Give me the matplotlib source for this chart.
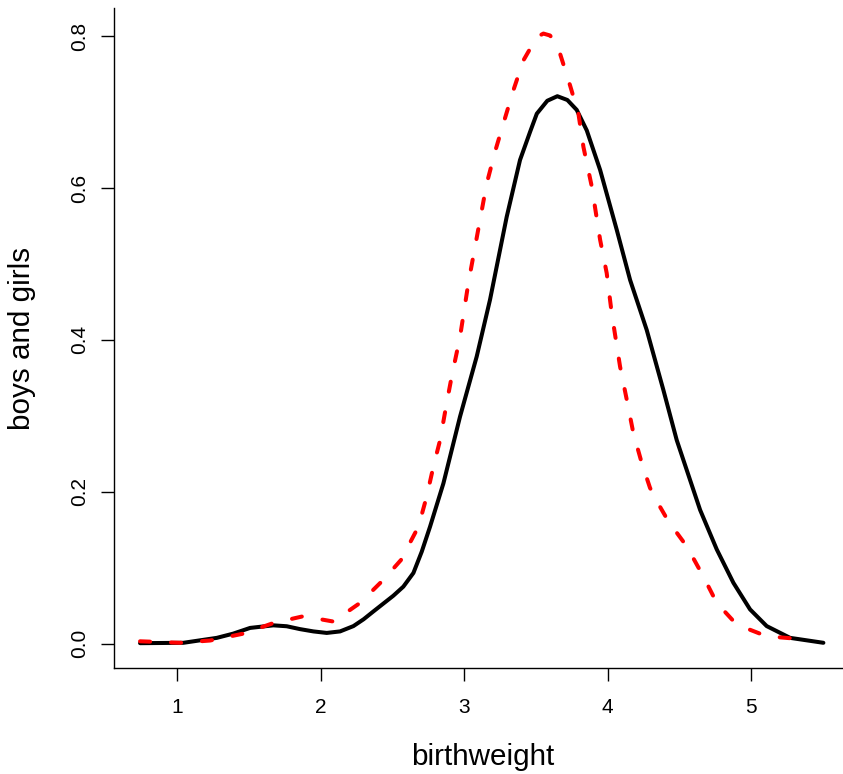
import matplotlib
matplotlib.use("Agg")
import matplotlib.pyplot as plt

plt.rcParams['font.family'] = ['Liberation Sans', 'DejaVu Sans']

# Density curves
boys_girls_x = [0.742, 1.044, 1.277, 1.390, 1.509, 1.671, 1.764, 1.857, 1.950, 2.043,
                2.136, 2.229, 2.300, 2.366, 2.507, 2.577, 2.647, 2.705, 2.763, 2.856,
                2.972, 3.088, 3.181, 3.297, 3.390, 3.460, 3.507, 3.580, 3.650, 3.720,
                3.785, 3.855, 3.948, 4.064, 4.157, 4.273, 4.389, 4.482, 4.528, 4.645,
                4.761, 4.877, 4.993, 5.109, 5.272, 5.504]
boys_girls_y = [0.0005, 0.001, 0.0075, 0.013, 0.0206, 0.024, 0.0228, 0.019, 0.016, 0.014,
                0.016, 0.023, 0.032, 0.042, 0.063, 0.075, 0.093, 0.121, 0.154, 0.211,
                0.299, 0.378, 0.453, 0.562, 0.637, 0.674, 0.698, 0.715, 0.721, 0.716,
                0.703, 0.676, 0.624, 0.545, 0.479, 0.413, 0.334, 0.268, 0.242, 0.176,
                0.124, 0.080, 0.045, 0.023, 0.0075, 0.001]

second_x = [0.742, 1.02, 1.23, 1.46, 1.671, 1.88, 2.089, 2.275, 2.438, 2.560,
            2.682, 2.740, 2.786, 2.833, 2.879, 2.914, 2.972, 3.030, 3.077, 3.111,
            3.158, 3.216, 3.274, 3.344, 3.413, 3.507, 3.553, 3.599, 3.634, 3.669,
            3.739, 3.797, 3.832, 3.890, 3.948, 3.994, 4.029, 4.087, 4.134, 4.180,
            4.238, 4.296, 4.366, 4.424, 4.552, 4.667, 4.761, 4.900, 5.109, 5.341,
            5.388]
second_y = [0.003, 0.001, 0.004, 0.013, 0.027, 0.036, 0.029, 0.0535, 0.084, 0.110,
            0.154, 0.194, 0.233, 0.268, 0.317, 0.352, 0.404, 0.475, 0.523, 0.558,
            0.606, 0.648, 0.685, 0.729, 0.768, 0.799, 0.8035, 0.801, 0.7925, 0.777,
            0.735, 0.698, 0.654, 0.602, 0.532, 0.488, 0.435, 0.365, 0.321, 0.277,
            0.238, 0.205, 0.180, 0.161, 0.128, 0.0886, 0.0535, 0.025, 0.0096, 0.006,
            0.005]

x_ticks = [1, 2, 3, 4, 5]
y_ticks = [0.0, 0.2, 0.4, 0.6, 0.8]
y_tick_labels = ["0.0", "0.2", "0.4", "0.6", "0.8"]

W, H = 843, 774
fig = plt.figure(figsize=(W / 100, H / 100), dpi=100)
ax = fig.add_axes([114 / W, (H - 668) / H, (850 - 114) / W, (668 - 8) / H])

ax.plot(boys_girls_x, boys_girls_y, color='black', lw=2.9, solid_capstyle='round',
        solid_joinstyle='round')
line, = ax.plot(second_x, second_y, color='#FF0000', lw=2.9, dash_capstyle='round',
                dash_joinstyle='round')
line.set_dashes((2.5, 5.2))

ax.set_xlim(0.5605, 5.6895)
ax.set_ylim(-0.0322, 0.8372)

ax.spines['top'].set_visible(False)
ax.spines['right'].set_visible(False)
for s in ('left', 'bottom'):
    ax.spines[s].set_linewidth(1.0)

ax.set_xticks(x_ticks)
ax.set_xticklabels([str(v) for v in x_ticks])
ax.set_yticks(y_ticks)
ax.set_yticklabels(y_tick_labels, rotation=90, va='center')
ax.tick_params(axis='both', direction='out', length=9.5, width=1.0, labelsize=15)
ax.tick_params(axis='x', pad=12)
ax.tick_params(axis='y', pad=8.5)

fig.text(483 / W, 1 - 757 / H, "birthweight", ha='center', va='center', fontsize=21.3)
fig.text(22 / W, 1 - 338 / H, "boys and girls", ha='center', va='center', fontsize=21.3,
         rotation=90)

fig.savefig("out.png", dpi=100)
